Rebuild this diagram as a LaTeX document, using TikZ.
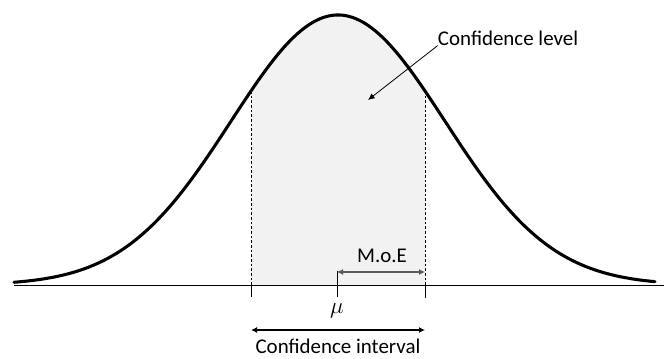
\documentclass[tikz,border=0pt]{standalone}
\usepackage{fontspec}
\setmainfont{Carlito}
\usetikzlibrary{arrows.meta}
\definecolor{areagray}{HTML}{F2F2F2}
\definecolor{moegray}{HTML}{595959}
\begin{document}
\begin{tikzpicture}[x=0.75pt,y=-0.75pt,
  lbl/.style={inner sep=0pt,font=\fontsize{15.7}{18}\selectfont},
  curve/.style={line width=2.3pt,line cap=round},
  guide/.style={line width=0.5pt,dash pattern=on 2pt off 1.5pt},
  tick/.style={line width=0.75pt},
  dim/.style={line width=1pt,{Latex[length=4.5pt,width=4.5pt]}-{Latex[length=4.5pt,width=4.5pt]}},
  pointer/.style={line width=0.6pt,-{Latex[length=5pt,width=4.5pt]}}]
\useasboundingbox (0,0) rectangle (664,358);
% shaded area
\fill[areagray] plot[domain=251:425,samples=60] (\x,{285-270*exp(-0.5*((\x-338)/107)^2)}) -- (425,285) -- (251,285) -- cycle;
% key coordinates
\coordinate (bl) at (14,285);
\coordinate (br) at (664,285);
\coordinate (Ltop) at (251,{285-270*exp(-0.5*((251-338)/107)^2)});
\coordinate (Rtop) at (425,{285-270*exp(-0.5*((425-338)/107)^2)});
\coordinate (Lb) at (251,285);
\coordinate (Rb) at (425,285);
\coordinate (Lt) at (251,297);
\coordinate (Rt) at (425,298);
\coordinate (Mtop) at (337,271);
\coordinate (Mt) at (337,297);
\coordinate (moeL) at (337,272);
\coordinate (moeR) at (425,272);
\coordinate (ciL) at (251,330);
\coordinate (ciR) at (425,330);
\coordinate (cltip) at (368,100);
% guides
\draw[guide] (Ltop) -- (Lb);
\draw[guide] (Rtop) -- (Rb);
% baseline
\draw[tick] (bl) -- (br);
% ticks
\draw[tick] (Lb) -- (Lt);
\draw[tick] (Rb) -- (Rt);
\draw[tick] (Mtop) -- (Mt);
% curve
\draw[curve] plot[domain=14:655,samples=200,smooth] (\x,{285-270*exp(-0.5*((\x-338)/107)^2)});
% labels
\node[lbl] (cl) at (508,38) {Confidence level};
\node[lbl] (moe) at (382,256) {M.o.E};
\node[lbl,font=\fontsize{19}{20}\selectfont] (mu) at (337,311) {$\mu$};
\node[lbl] (ci) at (338,346) {Confidence interval};
% arrows
\draw[pointer] (cl.south west) -- (cltip);
\draw[dim,moegray] (moeL) -- (moeR);
\draw[dim] (ciL) -- (ciR);
\end{tikzpicture}
\end{document}
